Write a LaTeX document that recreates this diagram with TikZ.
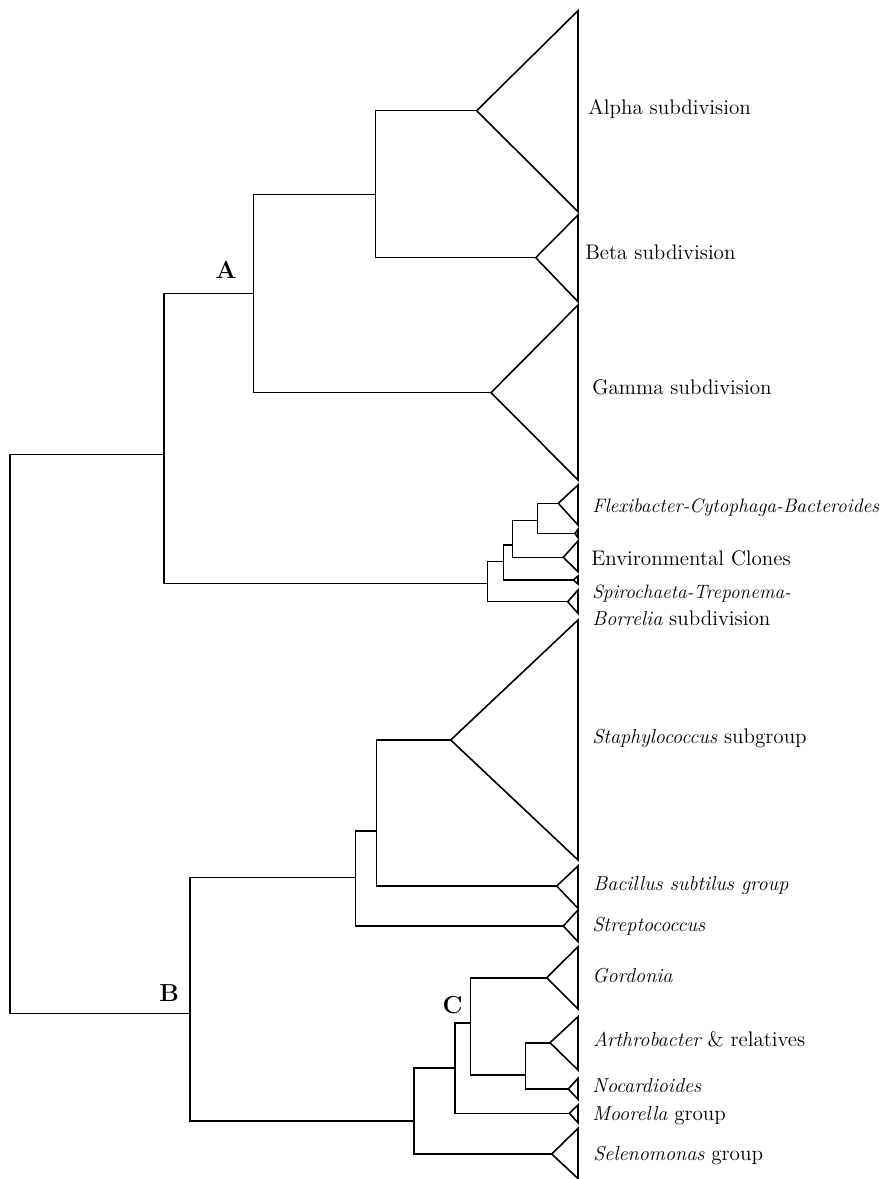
\documentclass[tikz,border=0pt]{standalone}
\usepackage{tikz}

\newcommand{\taxon}[2][11.5]{{\fontsize{#1}{14}\selectfont\itshape #2}}
\tikzset{
  branch/.style={line width=0.9pt},
  wedge/.style={line width=0.9pt, line join=miter},
  taxlabel/.style={anchor=base west, inner sep=0pt, font=\fontsize{12}{14}\selectfont},
  cladelabel/.style={anchor=base, inner sep=0pt, font=\fontsize{14}{16}\selectfont\bfseries},
}

\begin{document}
\begin{tikzpicture}[x=0.02cm,y=-0.02cm]
\useasboundingbox (0,0) rectangle (891,1179);

% internal nodes of the tree
\coordinate (root) at (10,734);
\coordinate (nL) at (164,454.3);
\coordinate (nA) at (253.3,293.3);
\coordinate (nAB) at (375.7,194.3);
\coordinate (nS) at (487.7,583.3);
\coordinate (n1) at (503.3,561.7);
\coordinate (n2) at (512.7,545);
\coordinate (n3) at (537.7,520.7);
\coordinate (nB) at (190,1013.3);
\coordinate (nF) at (355.7,877.3);
\coordinate (nSt) at (376.7,830.7);
\coordinate (nG) at (414,1121);
\coordinate (nC) at (455,1067.7);
\coordinate (nCC) at (470.7,1022.7);
\coordinate (nAN) at (525.7,1075);

% apex of each collapsed group
\coordinate (alphaT) at (476.7,110.7);
\coordinate (betaT) at (535.7,257.7);
\coordinate (gammaT) at (491,392.7);
\coordinate (fcbT) at (558.3,503.3);
\coordinate (fcbsT) at (575,533.3);
\coordinate (envT) at (563.3,557.3);
\coordinate (tinyT) at (573.3,580);
\coordinate (spiroT) at (567.7,601.7);
\coordinate (staphT) at (450.7,740);
\coordinate (bacilT) at (556.7,886);
\coordinate (strepT) at (563.3,926);
\coordinate (gordT) at (546.7,977.7);
\coordinate (arthT) at (550,1042.7);
\coordinate (nocaT) at (568.3,1089);
\coordinate (moorT) at (569.3,1113.3);
\coordinate (selenT) at (551.7,1154);

\draw[branch] (root) |- (nL);
\draw[branch] (root) |- (nB);
\draw[branch] (nL) |- (nA);
\draw[branch] (nL) |- (nS);
\draw[branch] (nA) |- (nAB);
\draw[branch] (nA) |- (gammaT);
\draw[branch] (nAB) |- (alphaT);
\draw[branch] (nAB) |- (betaT);
\draw[branch] (nS) |- (n1);
\draw[branch] (nS) |- (spiroT);
\draw[branch] (n1) |- (n2);
\draw[branch] (n1) |- (tinyT);
\draw[branch] (n2) |- (n3);
\draw[branch] (n2) |- (envT);
\draw[branch] (n3) |- (fcbT);
\draw[branch] (n3) |- (fcbsT);
\draw[branch] (nB) |- (nF);
\draw[branch] (nB) |- (nG);
\draw[branch] (nF) |- (nSt);
\draw[branch] (nF) |- (strepT);
\draw[branch] (nSt) |- (staphT);
\draw[branch] (nSt) |- (bacilT);
\draw[branch] (nG) |- (nC);
\draw[branch] (nG) |- (selenT);
\draw[branch] (nC) |- (nCC);
\draw[branch] (nC) |- (moorT);
\draw[branch] (nCC) |- (gordT);
\draw[branch] (nCC) |- (nAN);
\draw[branch] (nAN) |- (arthT);
\draw[branch] (nAN) |- (nocaT);

% triangles
\draw[wedge] (alphaT) -- (578,10.7) -- (578,211.7) -- cycle;
\draw[wedge] (betaT) -- (578,215) -- (578,301.7) -- cycle;
\draw[wedge] (gammaT) -- (578,305) -- (578,480) -- cycle;
\draw[wedge] (fcbT) -- (578,485) -- (578,525) -- cycle;
\draw[wedge] (fcbsT) -- (578,529.3) -- (578,537.7) -- cycle;
\draw[wedge] (envT) -- (578,541) -- (578,571.7) -- cycle;
\draw[wedge] (tinyT) -- (578,576) -- (578,584) -- cycle;
\draw[wedge] (spiroT) -- (578,590) -- (578,613.3) -- cycle;
\draw[wedge] (staphT) -- (578,620) -- (578,860) -- cycle;
\draw[wedge] (bacilT) -- (578,866) -- (578,908.3) -- cycle;
\draw[wedge] (strepT) -- (578,910) -- (578,941.7) -- cycle;
\draw[wedge] (gordT) -- (578,946.7) -- (578,1009) -- cycle;
\draw[wedge] (arthT) -- (578,1016.7) -- (578,1070) -- cycle;
\draw[wedge] (nocaT) -- (578,1078.3) -- (578,1099.3) -- cycle;
\draw[wedge] (moorT) -- (578,1105) -- (578,1122.7) -- cycle;
\draw[wedge] (selenT) -- (578,1128.3) -- (578,1178.5) -- cycle;

% group names
\node[taxlabel] (alphaL) at (588,115) {Alpha subdivision};
\node[taxlabel] (betaL) at (585,259.3) {Beta subdivision};
\node[taxlabel] (gammaL) at (592,394.3) {Gamma subdivision};
\node[taxlabel] (fcbL) at (592,512.7) {\taxon[11.1]{Flexibacter-Cytophaga-Bacteroides}};
\node[taxlabel] (envL) at (591,565) {Environmental Clones};
\node[taxlabel] (spiroL) at (592,598.3) {\taxon[11]{Spirochaeta-Treponema-}};
\node[taxlabel] (borrL) at (592,625) {\taxon{Borrelia} subdivision};
\node[taxlabel] (staphL) at (592,743.3) {\taxon{Staphylococcus} subgroup};
\node[taxlabel] (bacilL) at (593,890) {\taxon{Bacillus subtilus group}};
\node[taxlabel] (strepL) at (592,931.7) {\taxon{Streptococcus}};
\node[taxlabel] (gordL) at (592,982.3) {\taxon{Gordonia}};
\node[taxlabel] (arthL) at (593,1046.7) {\taxon{Arthrobacter} \& relatives};
\node[taxlabel] (nocaL) at (592,1092.7) {\taxon{Nocardioides}};
\node[taxlabel] (moorL) at (592,1120) {\taxon{Moorella} group};
\node[taxlabel] (selenL) at (593,1160) {\taxon{Selenomonas} group};

% clade letters
\node[cladelabel] (labA) at (226,278.3) {A};
\node[cladelabel] (labB) at (169.3,1001.7) {B};
\node[cladelabel] (labC) at (452.7,1013.3) {C};

\end{tikzpicture}
\end{document}
